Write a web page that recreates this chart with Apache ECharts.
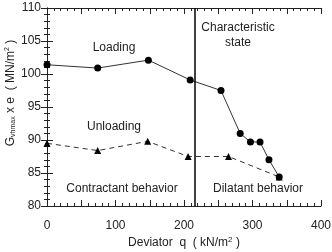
<!DOCTYPE html>
<html lang="en">
<head>
    <meta charset="UTF-8">
    <title>Gvhmax x e vs deviator</title>
    <script src="https://cdn.jsdelivr.net/npm/echarts@6/dist/echarts.min.js"></script>
    <style>
        body { margin: 0; background: #fff; }
    </style>
</head>
<body>
<div id="main" style="width: 332px;height:252px;"></div>
<script type="text/javascript">
    // loading branch (q, Gvhmax x e)
    var loadingQ = [0, 74, 148, 209, 254, 282, 297, 311, 324, 339];
    var loadingG = [101.4, 100.9, 102.1, 99.1, 97.5, 91.0, 89.7, 89.7, 87.0, 84.4];
    // unloading branch
    var unloadingQ = [0, 74, 147, 206, 265, 339];
    var unloadingG = [89.5, 88.4, 89.8, 87.5, 87.5, 84.4];
    // characteristic state
    var charQ = 216;
    var xTickLabels = [0, 100, 200, 300, 400];

    var pair = function (xs, ys) {
        var res = [];
        for (var i = 0; i < xs.length; i++) {
            res.push([xs[i], ys[i]]);
        }
        return res;
    };

    var myChart = echarts.init(document.getElementById('main'));
    var ink = '#222';
    var font = 'Liberation Sans, Arial, sans-serif';

    var baseAxis = {
        axisLine: { show: true, lineStyle: { color: ink, width: 1 } },
        axisTick: { show: true, inside: true, length: 6, lineStyle: { color: ink } },
        minorTick: { show: true, splitNumber: 5, length: 3, lineStyle: { color: ink } },
        splitLine: { show: false }
    };

    option = {
        animation: false,
        grid: { left: 47, right: 11, top: 8, bottom: 46, outerBoundsMode: 'none', containLabel: false },
        xAxis: [
            echarts.util.merge({
                type: 'value', min: 0, max: 400, interval: 50, position: 'bottom',
                axisLabel: {
                    color: ink, fontSize: 12, fontFamily: font, margin: 14,
                    formatter: function (v) {
                        return xTickLabels.indexOf(v) >= 0 ? String(v) : '';
                    }
                },
                name: '{a|Deviator  q  ( kN/m}{p|2}{a| )}',
                nameLocation: 'middle', nameGap: 30, nameMoveOverlap: false,
                nameTextStyle: {
                    rich: {
                        a: { fontSize: 12, fontFamily: font, color: ink },
                        p: { fontSize: 8, fontFamily: font, color: ink, padding: [0, 0, 6, 0] }
                    }
                }
            }, baseAxis, true),
            echarts.util.merge({
                type: 'value', min: 0, max: 400, interval: 50, position: 'top',
                axisLabel: { show: false }
            }, baseAxis, true)
        ],
        yAxis: [
            echarts.util.merge({
                type: 'value', min: 80, max: 110, interval: 5, position: 'left',
                axisLabel: { color: ink, fontSize: 12, fontFamily: font, margin: 6 },
                name: '{a|G}{s|vhmax}{a| x e  ( MN/m}{p|2}{a| )}',
                nameLocation: 'middle', nameGap: 30, nameMoveOverlap: false,
                nameTextStyle: {
                    padding: [0, 0, 0, 28],
                    rich: {
                        a: { fontSize: 12, fontFamily: font, color: ink },
                        s: { fontSize: 7, fontFamily: font, color: ink, padding: [6, 0, 0, 0] },
                        p: { fontSize: 7, fontFamily: font, color: ink, padding: [0, 0, 6, 0] }
                    }
                }
            }, baseAxis, true),
            echarts.util.merge({
                type: 'value', min: 80, max: 110, interval: 5, position: 'right',
                axisLabel: { show: false }
            }, baseAxis, true)
        ],
        graphic: [
            { type: 'text', x: 114, y: 48, style: { text: 'Loading', font: '12px ' + font, fill: ink, align: 'center', verticalAlign: 'middle' } },
            { type: 'text', x: 114, y: 127, style: { text: 'Unloading', font: '12px ' + font, fill: ink, align: 'center', verticalAlign: 'middle' } },
            { type: 'text', x: 238, y: 35, style: { text: 'Characteristic\nstate', font: '12px ' + font, fill: ink, align: 'center', verticalAlign: 'middle', lineHeight: 15 } },
            { type: 'text', x: 122, y: 189, style: { text: 'Contractant behavior', font: '12px ' + font, fill: ink, align: 'center', verticalAlign: 'middle' } },
            { type: 'text', x: 258, y: 189, style: { text: 'Dilatant behavior', font: '12px ' + font, fill: ink, align: 'center', verticalAlign: 'middle' } }
        ],
        series: [
            {
                name: 'Loading',
                type: 'line',
                data: pair(loadingQ, loadingG),
                symbol: 'circle',
                symbolSize: 7,
                lineStyle: { color: '#333', width: 1 },
                itemStyle: { color: '#000' },
                z: 3,
                markLine: {
                    silent: true,
                    symbol: 'none',
                    label: { show: false },
                    lineStyle: { color: '#000', width: 1.5, type: 'solid' },
                    data: [{ xAxis: charQ }]
                }
            },
            {
                name: 'Unloading',
                type: 'line',
                data: pair(unloadingQ, unloadingG),
                symbol: 'triangle',
                symbolSize: 7,
                lineStyle: { color: '#333', width: 1, type: [5, 4] },
                itemStyle: { color: '#000' },
                z: 2
            }
        ]
    };
    myChart.setOption(option);
</script>
</body>
</html>
